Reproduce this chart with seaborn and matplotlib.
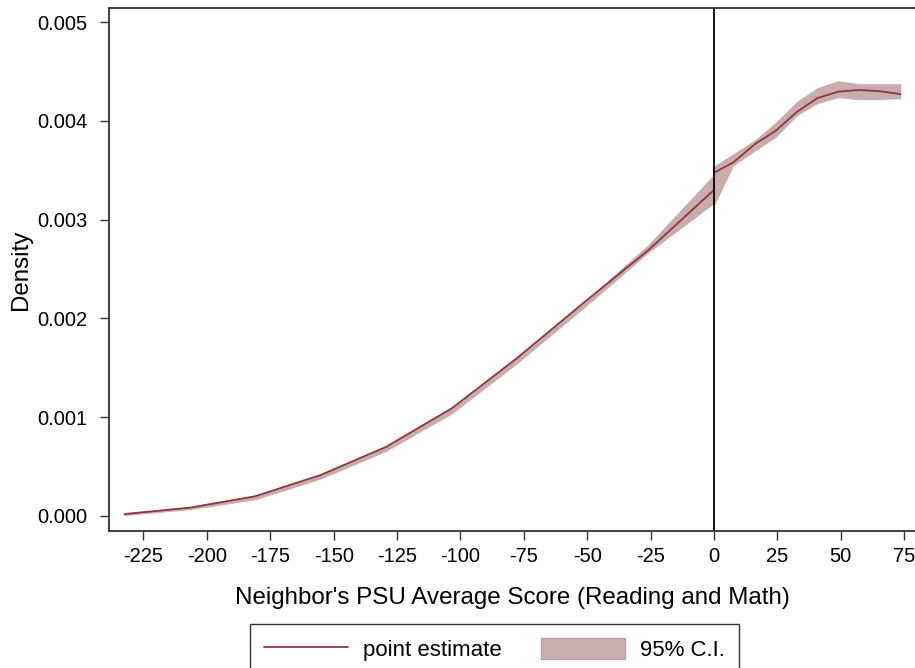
import numpy as np
import pandas as pd
import matplotlib
matplotlib.use("Agg")
import matplotlib.pyplot as plt
import seaborn as sns
from matplotlib.patches import Patch
from matplotlib.lines import Line2D

# Left of the cutoff (score < 0)
left_x = [-232.5, -206.7, -180.9, -155.1, -129.3, -103.4, -77.6, -51.8, -25.9, 0.0]
left_est = [0.00002, 0.000084, 0.0002, 0.000415, 0.0007, 0.00109, 0.0016, 0.00215, 0.00269, 0.0033]
left_lo = [0.00001, 0.00007, 0.00017, 0.00038, 0.00066, 0.00104, 0.00155, 0.0021, 0.00267, 0.00317]
left_hi = [0.00002, 0.00009, 0.0002, 0.00042, 0.0007, 0.00109, 0.0016, 0.00215, 0.00274, 0.00345]

# Right of the cutoff (score >= 0)
right_x = [0.0, 7.5, 16.2, 24.4, 32.7, 40.8, 49.0, 57.3, 65.5, 73.5]
right_est = [0.003475, 0.003576, 0.003765, 0.0039, 0.00409, 0.00423, 0.004295, 0.004312, 0.0043, 0.00427]
right_lo = [0.00315, 0.00355, 0.0037, 0.00384, 0.00406, 0.00418, 0.00424, 0.00422, 0.00422, 0.00423]
right_hi = [0.003536, 0.00366, 0.0038, 0.00398, 0.00419, 0.00433, 0.0044, 0.00437, 0.00437, 0.00437]

x_ticks = [-225, -200, -175, -150, -125, -100, -75, -50, -25, 0, 25, 50, 75]
y_ticks = [0.000, 0.001, 0.002, 0.003, 0.004, 0.005]

line_col = "#913540"
band_col = "#c8aeaa"

sns.set_style("ticks")
plt.rcParams["font.family"] = ["Liberation Sans", "DejaVu Sans"]
plt.rcParams["axes.unicode_minus"] = False
plt.rcParams["text.color"] = "black"
plt.rcParams["axes.labelcolor"] = "black"
plt.rcParams["xtick.color"] = "black"
plt.rcParams["ytick.color"] = "black"

df = pd.concat([
    pd.DataFrame({"score": left_x, "density": left_est, "side": "left"}),
    pd.DataFrame({"score": right_x, "density": right_est, "side": "right"}),
])

fig = plt.figure(figsize=(9.15, 6.68), dpi=100)
ax = fig.add_axes([109 / 915, 137 / 668, 1 - 109 / 915, 523 / 668])

ax.fill_between(left_x, left_lo, left_hi, color=band_col, lw=0.8, edgecolor=band_col)
ax.fill_between(right_x, right_lo, right_hi, color=band_col, lw=0.8, edgecolor=band_col)
sns.lineplot(data=df, x="score", y="density", units="side", estimator=None,
             color=line_col, lw=1.3, ax=ax, legend=False)
ax.axvline(0, color="black", lw=1.3)

ax.set_xlim(-238.6, 79.3)
ax.set_ylim(-0.000152, 0.005142)
ax.set_xticks(x_ticks)
ax.set_yticks(y_ticks)
ax.set_yticklabels([f"{v:.3f}" for v in y_ticks])
ax.tick_params(axis="both", labelsize=14.5, length=6.5, width=1.0, color="#333333")
ax.tick_params(axis="y", pad=9)
ax.tick_params(axis="x", pad=5)

ax.set_xlabel("Neighbor's PSU Average Score (Reading and Math)", fontsize=17.4, labelpad=15)
ax.set_ylabel("Density", fontsize=17.4, labelpad=4)

for side in ["left", "bottom", "top"]:
    ax.spines[side].set_linewidth(1.3)
    ax.spines[side].set_color("#333333")
ax.spines["right"].set_visible(False)

handles = [
    Line2D([0], [0], color=line_col, lw=1.3),
    Patch(facecolor=band_col, edgecolor="#bd9f9b", lw=1.0),
]
leg = fig.legend(handles, ["point estimate", "95% C.I."], loc="upper center",
                 bbox_to_anchor=(494.5 / 915, 1 - 624 / 668), ncol=2, fontsize=16,
                 frameon=True, fancybox=False, edgecolor="black", handlelength=3.75,
                 handleheight=1.08, handletextpad=0.68, columnspacing=1.8, borderpad=0.62,
                 borderaxespad=0)
leg.get_frame().set_linewidth(1.0)

fig.savefig("out.png", dpi=100)
